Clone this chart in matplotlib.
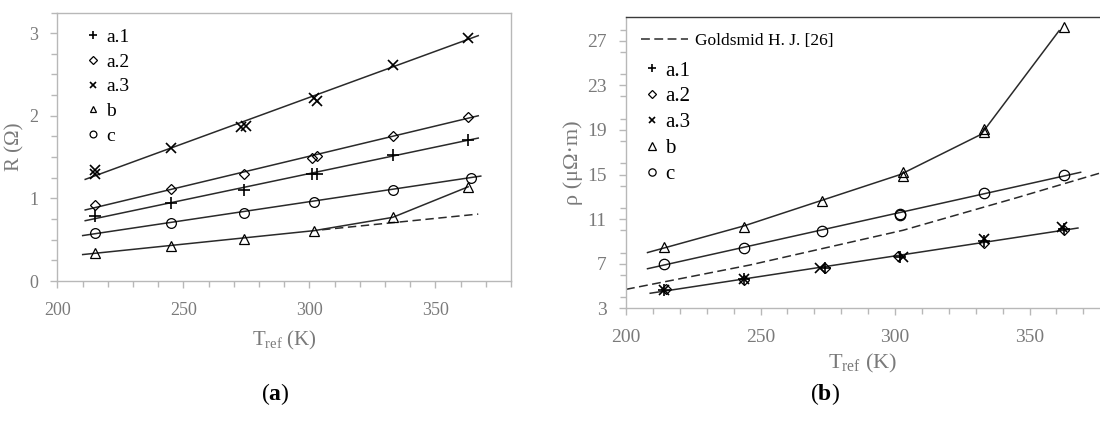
import numpy as np
import matplotlib.pyplot as plt
from matplotlib.ticker import MultipleLocator

plt.rcParams['font.family'] = ['Liberation Serif', 'DejaVu Serif']
plt.rcParams['mathtext.fontset'] = 'custom'
plt.rcParams['mathtext.rm'] = 'Liberation Serif'
plt.rcParams['mathtext.it'] = 'Liberation Serif:italic'
plt.rcParams['mathtext.bf'] = 'Liberation Serif:bold'

# ---- panel (a): R vs T_ref ----
Ta_a1 = [215, 245, 274, 301, 303, 333, 363]
R_a1 = [0.79, 0.95, 1.10, 1.30, 1.29, 1.52, 1.71]
Ta_a2 = [215, 245, 274, 301, 303, 333, 363]
R_a2 = [0.92, 1.11, 1.29, 1.49, 1.51, 1.76, 1.98]
Ta_a3 = [215, 215, 245, 273, 275, 302, 303, 333, 363]
R_a3 = [1.34, 1.30, 1.61, 1.87, 1.88, 2.21, 2.18, 2.61, 2.94]
Ta_b = [215, 245, 274, 302, 333, 363]
R_b = [0.34, 0.42, 0.51, 0.61, 0.77, 1.14]
Ta_c = [215, 245, 274, 302, 333, 364]
R_c = [0.575, 0.70, 0.82, 0.955, 1.105, 1.245]

# fitted lines (end points)
fitA_T = [211, 367]
fitA_a1 = [0.73, 1.73]
fitA_a2 = [0.86, 2.00]
fitA_a3 = [1.23, 2.97]
fitA_c_T = [210, 368]
fitA_c = [0.55, 1.27]
lineA_b_T = [210, 302, 333, 363]
lineA_b = [0.32, 0.61, 0.77, 1.14]
dashA_b_T = [305, 367]
dashA_b = [0.62, 0.81]

# ---- panel (b): rho vs T_ref ----
Tb_a1 = [214, 244, 274, 302, 333, 363]
rho_a1 = [4.6, 5.6, 6.6, 7.6, 9.0, 10.1]
Tb_a2 = [215, 244, 274, 301, 333, 363]
rho_a2 = [4.7, 5.5, 6.6, 7.7, 8.9, 10.0]
Tb_a3 = [214, 244, 272, 303, 333, 362]
rho_a3 = [4.6, 5.6, 6.6, 7.6, 9.2, 10.3]
Tb_b = [214, 244, 273, 303, 303, 333, 333, 363]
rho_b = [8.5, 10.3, 12.6, 15.2, 14.9, 19.1, 18.8, 28.2]
Tb_c = [214, 244, 273, 302, 302, 333, 363]
rho_c = [6.95, 8.4, 9.95, 11.5, 11.4, 13.3, 15.0]

fitB_a_T = [209, 368]
fitB_a = [4.35, 10.2]
fitB_c_T = [208, 369]
fitB_c = [6.55, 15.2]
lineB_b_T = [208, 244, 273, 302, 332, 361]
lineB_b = [8.0, 10.4, 12.7, 15.0, 18.6, 27.9]
gold_T = [200, 246, 303, 345, 380]
gold_rho = [4.70, 6.88, 10.0, 12.9, 15.4]

grey = '#b8b8b8'
txtgrey = '#7a7a7a'
linec = '#2a2a2a'

fig = plt.figure(figsize=(11, 4.24), dpi=100)
axA = fig.add_axes([0.05227, 0.33726, 0.41227, 0.63325])
axB = fig.add_axes([0.56909, 0.27288, 0.43091, 0.68632])

mk = dict(color='black', markerfacecolor='none', linestyle='none')

def style(ax, fs):
    ax.tick_params(which='both', direction='out', colors=grey, labelcolor=txtgrey, labelsize=fs)
    ax.tick_params(which='major', length=5, width=1)
    ax.tick_params(which='minor', length=4, width=1)
    ax.tick_params(axis='y', pad=9)
    ax.tick_params(axis='x', pad=10)
    for s in ax.spines.values():
        s.set_color(grey)
        s.set_linewidth(1)

# (a)
axA.plot(fitA_T, fitA_a3, color=linec, lw=1.1)
axA.plot(fitA_T, fitA_a2, color=linec, lw=1.1)
axA.plot(fitA_T, fitA_a1, color=linec, lw=1.1)
axA.plot(fitA_c_T, fitA_c, color=linec, lw=1.1)
axA.plot(lineA_b_T, lineA_b, color=linec, lw=1.1)
axA.plot(dashA_b_T, dashA_b, color=linec, lw=1.1, dashes=(5.5, 3))
hA = []
hA += axA.plot(Ta_a1, R_a1, marker='+', ms=8, mew=1.2, label='a.1', **mk)
hA += axA.plot(Ta_a2, R_a2, marker='D', ms=5.5, mew=0.9, label='a.2', **mk)
hA += axA.plot(Ta_a3, R_a3, marker='x', ms=7, mew=1.2, label='a.3', **mk)
hA += axA.plot(Ta_b, R_b, marker='^', ms=7, mew=0.9, label='b', **mk)
hA += axA.plot(Ta_c, R_c, marker='o', ms=7, mew=0.9, label='c', **mk)
axA.set_xlim(200, 380)
axA.set_ylim(0, 3.25)
axA.set_xticks([200, 250, 300, 350])
axA.xaxis.set_minor_locator(MultipleLocator(10))
axA.set_yticks([0, 1, 2, 3])
axA.yaxis.set_minor_locator(MultipleLocator(0.25))
style(axA, 13)
axA.set_xlabel(r'T$_{\mathregular{ref}}$ (K)', fontsize=15, color=txtgrey, labelpad=7)
axA.set_ylabel('R (Ω)', fontsize=15, color=txtgrey, labelpad=3)
legA = axA.legend(handles=hA, loc='upper left', bbox_to_anchor=(0.066, 0.94), frameon=False,
                  handlelength=0.6, handletextpad=0.35, labelspacing=0.36, markerscale=0.7,
                  borderaxespad=0, borderpad=0, fontsize=14)

# (b)
hG = axB.plot(gold_T, gold_rho, color=linec, lw=1.1, dashes=(5.8, 2.9), label='Goldsmid H. J. [26]')
axB.plot(fitB_a_T, fitB_a, color=linec, lw=1.1)
axB.plot(fitB_c_T, fitB_c, color=linec, lw=1.1)
axB.plot(lineB_b_T, lineB_b, color=linec, lw=1.1)
hB = []
hB += axB.plot(Tb_a1, rho_a1, marker='+', ms=8, mew=1.2, label='a.1', **mk)
hB += axB.plot(Tb_a2, rho_a2, marker='D', ms=5.5, mew=0.9, label='a.2', **mk)
hB += axB.plot(Tb_a3, rho_a3, marker='x', ms=7, mew=1.2, label='a.3', **mk)
hB += axB.plot(Tb_b, rho_b, marker='^', ms=7.5, mew=0.9, label='b', **mk)
hB += axB.plot(Tb_c, rho_c, marker='o', ms=7.5, mew=0.9, label='c', **mk)
axB.set_xlim(200, 376.2)
axB.set_ylim(3, 29.1)
axB.set_xticks([200, 250, 300, 350])
axB.xaxis.set_minor_locator(MultipleLocator(10))
axB.set_yticks([3, 7, 11, 15, 19, 23, 27])
axB.yaxis.set_minor_locator(MultipleLocator(2))
style(axB, 14)
axB.spines['right'].set_visible(False)
axB.spines['top'].set_color('#3a3a3a')
axB.set_xlabel(r'T$_{\mathregular{ref}}$ (K)', fontsize=16, color=txtgrey, labelpad=4)
axB.set_ylabel('ρ (μΩ·m)', fontsize=16, color=txtgrey, labelpad=3)
legG = axB.legend(handles=hG, loc='upper left', bbox_to_anchor=(0.031, 0.948), frameon=False,
                  handlelength=2.7, handletextpad=0.4, borderaxespad=0, borderpad=0, fontsize=12.5)
axB.add_artist(legG)
legB = axB.legend(handles=hB, loc='upper left', bbox_to_anchor=(0.0407, 0.85), frameon=False,
                  handlelength=0.6, handletextpad=0.35, labelspacing=0.3, markerscale=0.7,
                  borderaxespad=0, borderpad=0, fontsize=15)

fig.text(0.25, 0.07, r'($\mathbf{a}$)', ha='center', va='center', fontsize=17)
fig.text(0.75, 0.07, r'($\mathbf{b}$)', ha='center', va='center', fontsize=17)

plt.savefig('out.png', dpi=100)
